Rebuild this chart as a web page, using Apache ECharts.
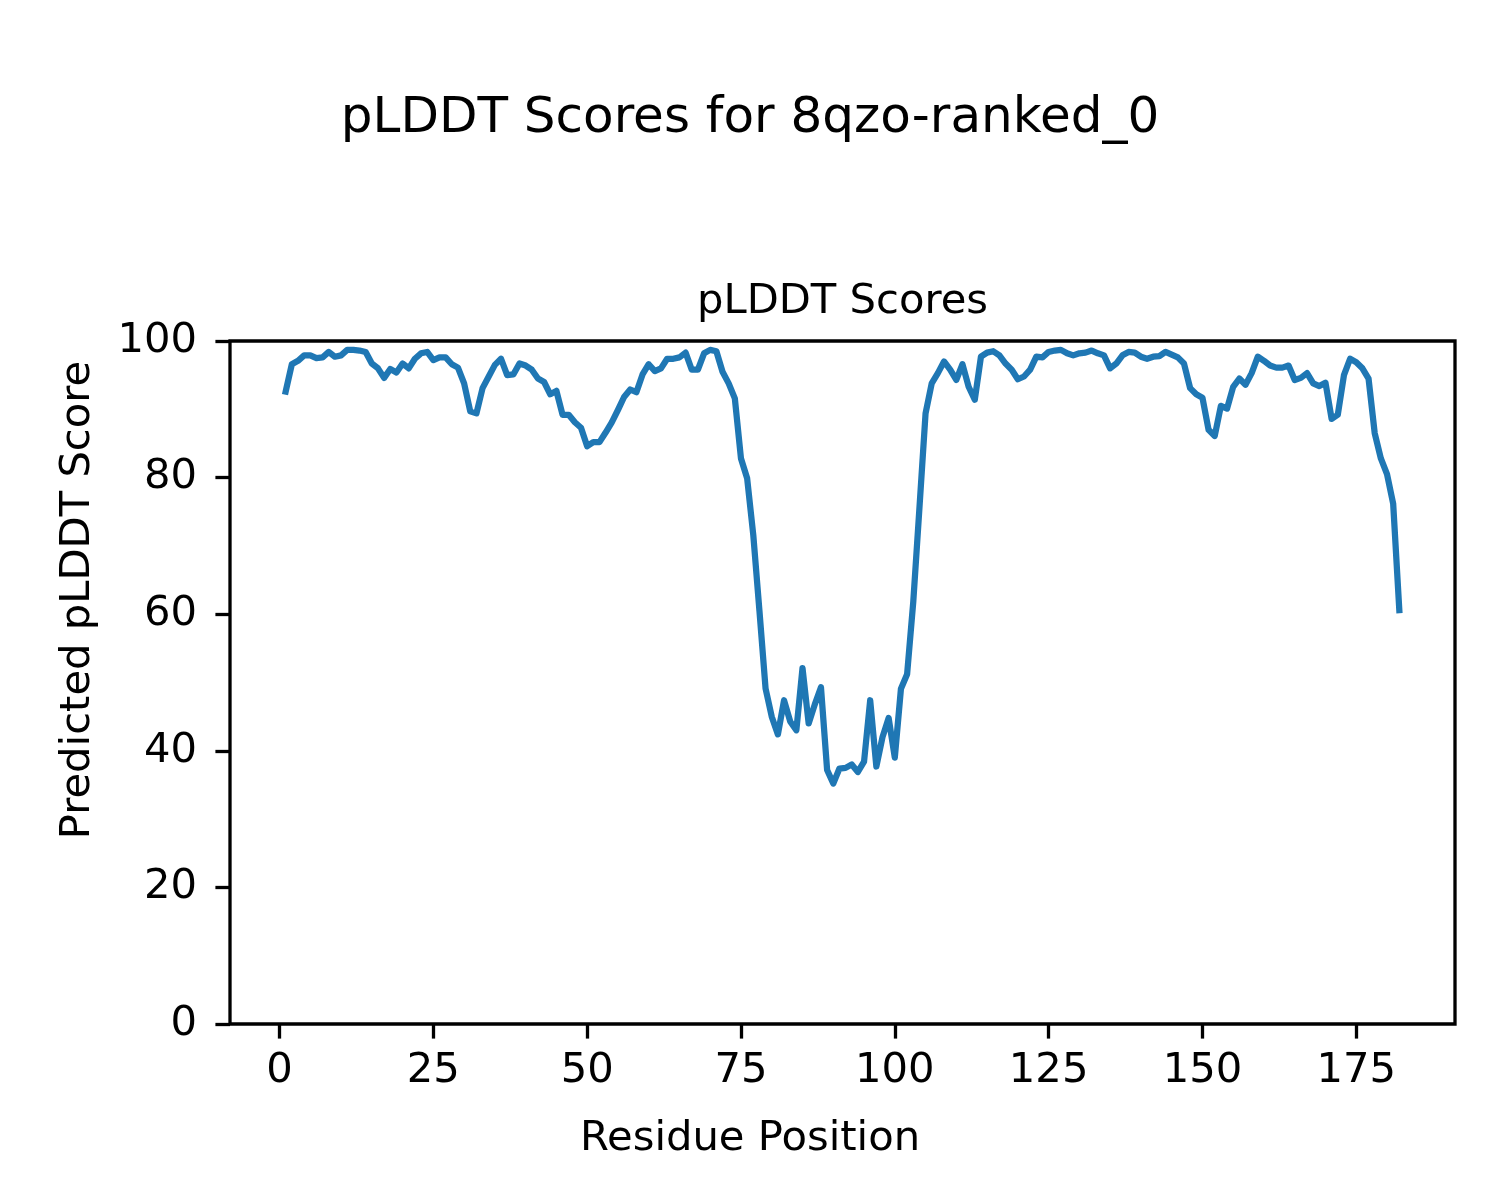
<!DOCTYPE html>
<html>
<head>
<meta charset="utf-8">
<script src="https://cdn.jsdelivr.net/npm/echarts@6/dist/echarts.min.js"></script>
<style>html,body{margin:0;padding:0;background:#fff}#c{width:1500px;height:1200px}</style>
</head>
<body>
<div id="c"></div>
<script>
const suptitle = 'pLDDT Scores for 8qzo-ranked_0';
const axesTitle = 'pLDDT Scores';
const xLabel = 'Residue Position';
const yLabel = 'Predicted pLDDT Score';
const firstResidue = 1;
const xTicks = [0, 25, 50, 75, 100, 125, 150, 175];
const yTicks = [0, 20, 40, 60, 80, 100];
const scores = [
  92.6, 96.6, 97.1, 97.9, 97.9, 97.5, 97.6, 98.4, 97.7, 97.9,
  98.7, 98.7, 98.6, 98.4, 96.7, 96.0, 94.6, 95.9, 95.4, 96.7,
  96.0, 97.4, 98.2, 98.4, 97.2, 97.6, 97.6, 96.6, 96.1, 93.8,
  89.7, 89.4, 93.1, 94.8, 96.5, 97.4, 95.0, 95.1, 96.7, 96.4,
  95.8, 94.5, 94.0, 92.2, 92.7, 89.2, 89.2, 88.1, 87.3, 84.6,
  85.2, 85.2, 86.6, 88.1, 89.9, 91.8, 92.9, 92.5, 95.1, 96.6,
  95.6, 96.0, 97.4, 97.4, 97.6, 98.3, 95.8, 95.8, 98.2, 98.7,
  98.5, 95.5, 93.8, 91.6, 82.8, 79.9, 71.6, 60.5, 49.1, 45.0,
  42.4, 47.4, 44.3, 43.0, 52.1, 44.0, 46.8, 49.3, 37.2, 35.2,
  37.4, 37.5, 38.0, 36.9, 38.4, 47.4, 37.7, 42.0, 44.8, 39.0,
  49.1, 51.2, 61.8, 75.5, 89.4, 93.8, 95.3, 97.0, 95.8, 94.3,
  96.6, 93.3, 91.4, 97.7, 98.3, 98.5, 97.9, 96.7, 95.8, 94.4,
  94.8, 95.8, 97.7, 97.6, 98.4, 98.6, 98.7, 98.2, 97.9, 98.2,
  98.3, 98.6, 98.2, 97.9, 96.0, 96.7, 97.9, 98.4, 98.3, 97.7,
  97.4, 97.7, 97.8, 98.4, 98.0, 97.6, 96.7, 93.1, 92.2, 91.7,
  87.0, 86.1, 90.5, 90.1, 93.3, 94.5, 93.6, 95.3, 97.7, 97.1,
  96.4, 96.1, 96.1, 96.4, 94.3, 94.6, 95.3, 93.8, 93.4, 93.9,
  88.6, 89.2, 95.0, 97.4, 96.9, 96.0, 94.5, 86.5, 82.8, 80.5,
  76.2, 60.6
];

const FONT = 'DejaVu Sans';
const data = scores.map((v, i) => [firstResidue + i, v]);
const xFirst = firstResidue, xLast = firstResidue + scores.length - 1;
const pad = (xLast - xFirst) * 0.05;

const chart = echarts.init(document.getElementById('c'), null, {renderer: 'canvas'});
chart.setOption({
  animation: false,
  backgroundColor: '#fff',
  grid: {left: 230, right: 45, top: 341, bottom: 176, show: true, borderColor: '#000', borderWidth: 3.3, backgroundColor: 'transparent'},
  xAxis: {
    type: 'value', min: xFirst - pad, max: xLast + pad,
    axisLine: {show: false, onZero: false},
    splitLine: {show: false},
    axisTick: {show: true, inside: false, length: 14.6, lineStyle: {color: '#000', width: 3.3}, customValues: xTicks},
    axisLabel: {show: true, margin: 26, fontSize: 41.7, fontFamily: FONT, color: '#000', customValues: xTicks}
  },
  yAxis: {
    type: 'value', min: 0, max: 100, interval: 20,
    axisLine: {show: false, onZero: false},
    splitLine: {show: false},
    axisTick: {show: true, inside: false, length: 14.6, lineStyle: {color: '#000', width: 3.3}, customValues: yTicks},
    axisLabel: {show: true, margin: 33, fontSize: 41.7, fontFamily: FONT, color: '#000', customValues: yTicks}
  },
  series: [{
    type: 'line', data: data, showSymbol: false, symbol: 'none',
    lineStyle: {color: '#1f77b4', width: 6.25, cap: 'square', join: 'round'},
    clip: true
  }],
  graphic: [
    {type: 'text', x: 750, y: 119, style: {text: suptitle, fontSize: 50, fontFamily: FONT, fill: '#000', align: 'center', verticalAlign: 'middle'}},
    {type: 'text', x: 842.5, y: 302, style: {text: axesTitle, fontSize: 41.7, fontFamily: FONT, fill: '#000', align: 'center', verticalAlign: 'middle'}},
    {type: 'text', x: 750, y: 1139, style: {text: xLabel, fontSize: 41.7, fontFamily: FONT, fill: '#000', align: 'center', verticalAlign: 'middle'}},
    {type: 'text', x: 78, y: 600, rotation: Math.PI / 2, style: {text: yLabel, fontSize: 41.7, fontFamily: FONT, fill: '#000', align: 'center', verticalAlign: 'middle'}}
  ]
});
</script>
</body>
</html>
